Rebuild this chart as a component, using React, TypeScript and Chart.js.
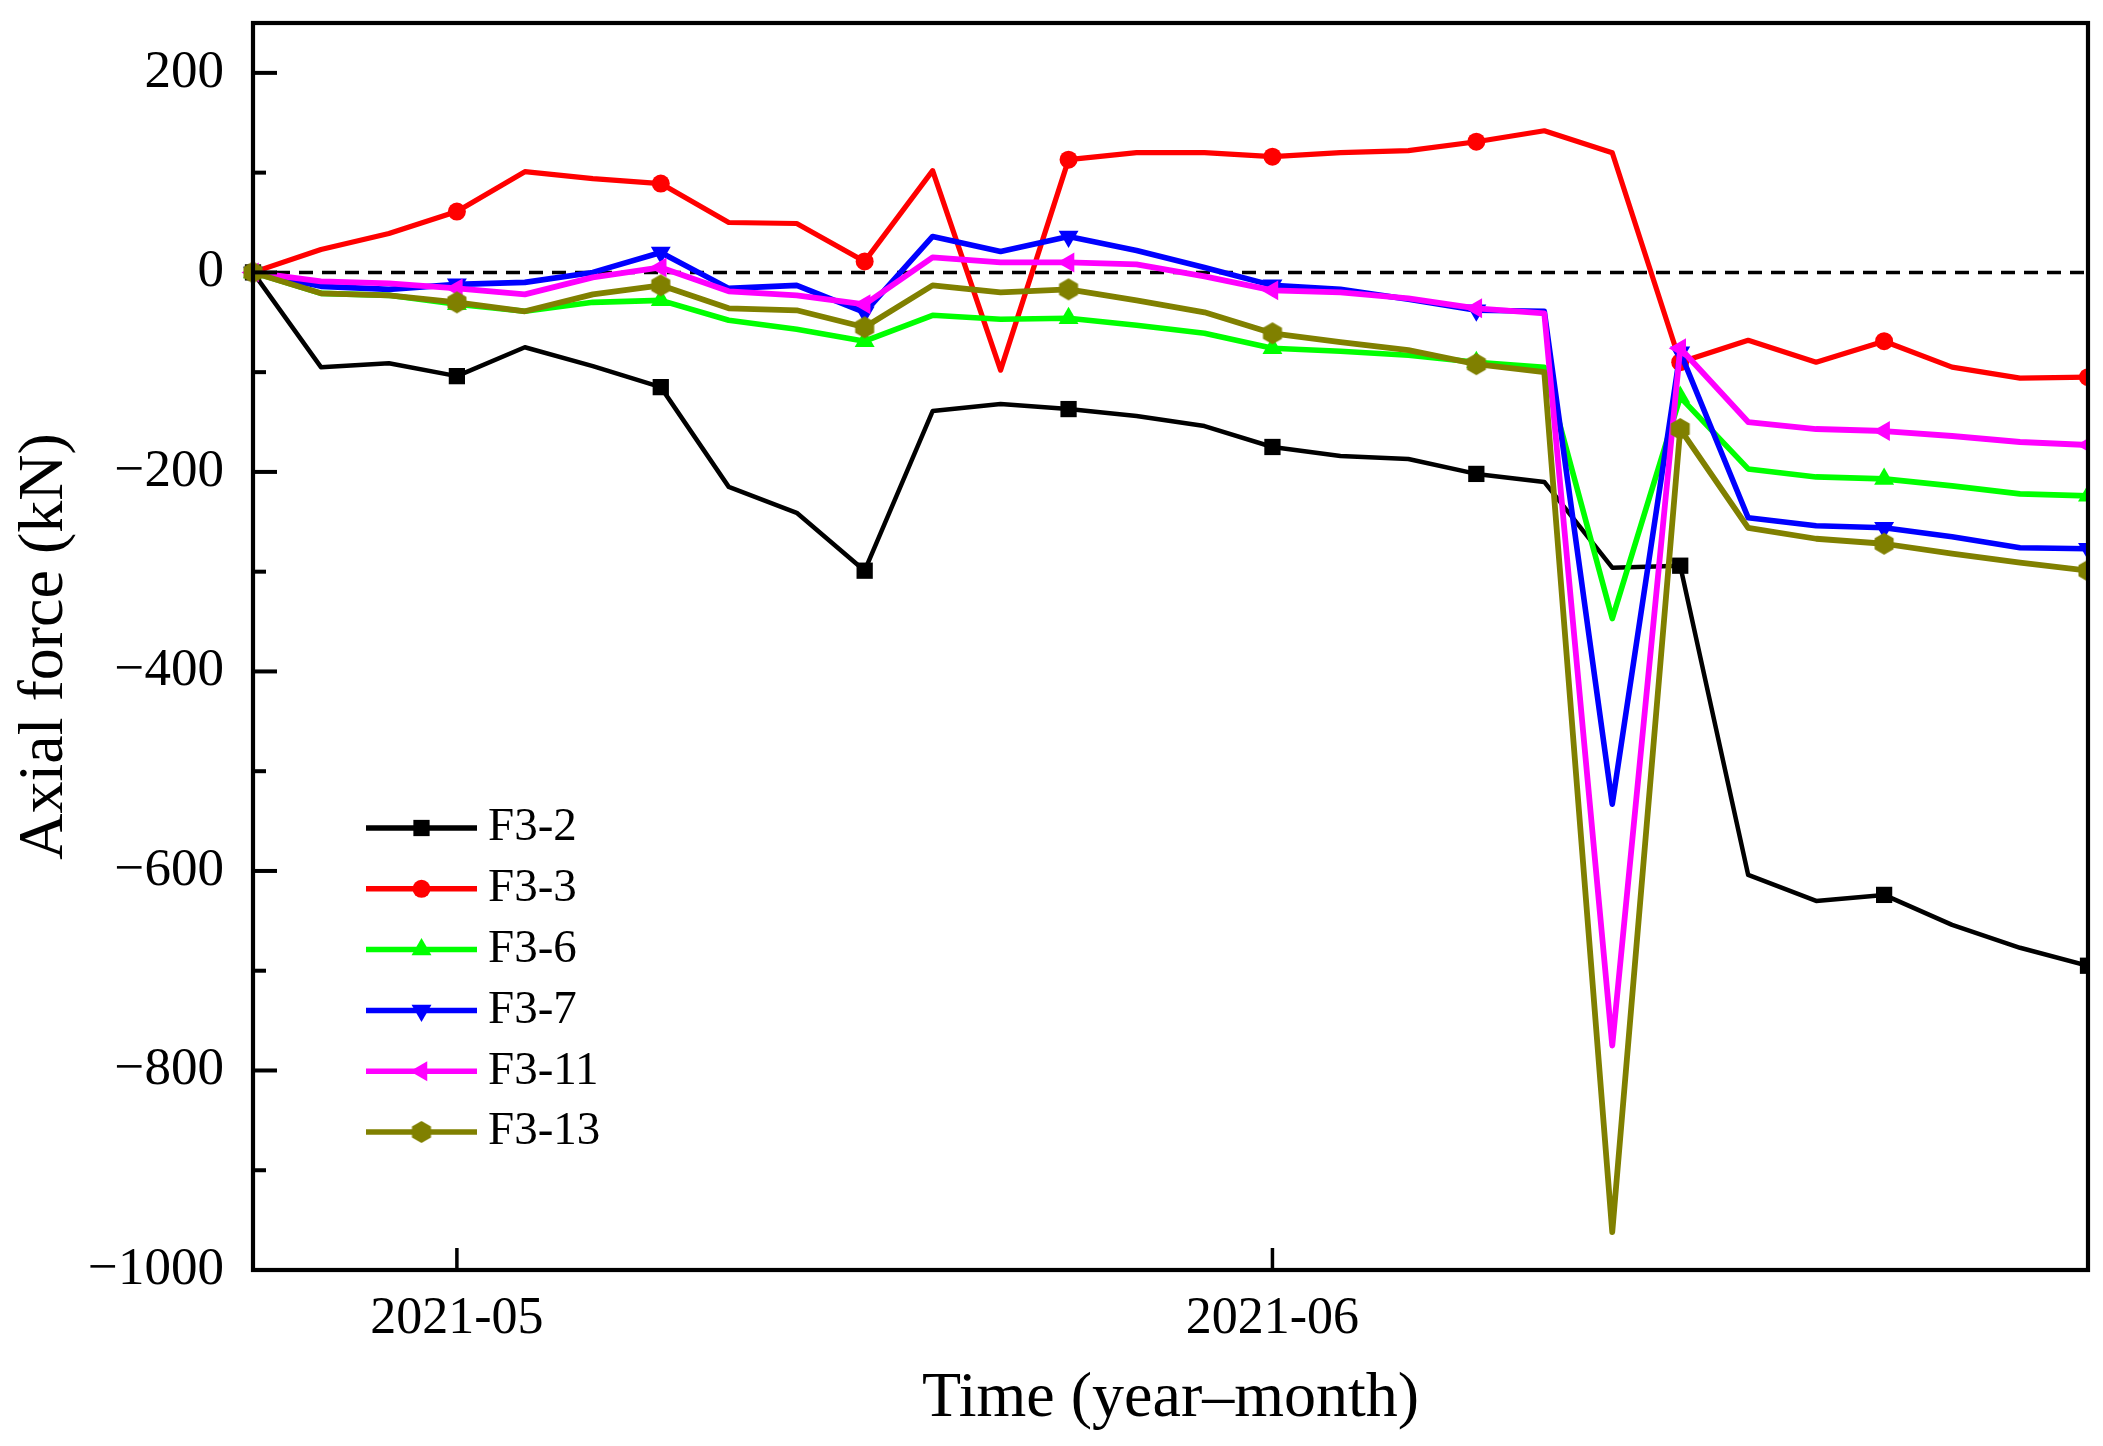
import React, { useEffect, useRef } from 'react';
import { Chart, registerables } from 'chart.js';
import { drawPoint } from 'chart.js/helpers';

Chart.register(...registerables);

// ---------------- data ----------------
const dates = [
  '2021-04-23', '2021-04-25', '2021-04-28', '2021-05-01', '2021-05-03', '2021-05-06', '2021-05-08',
  '2021-05-11', '2021-05-13', '2021-05-16', '2021-05-19', '2021-05-21', '2021-05-24', '2021-05-26',
  '2021-05-29', '2021-06-01', '2021-06-03', '2021-06-06', '2021-06-08', '2021-06-11', '2021-06-13',
  '2021-06-16', '2021-06-19', '2021-06-21', '2021-06-24', '2021-06-26', '2021-06-29', '2021-07-02',
];
const xTickDates = ['2021-05-01', '2021-06-01'];
const xTickLabels = ['2021-05', '2021-06'];
const yMajorTicks = [-1000, -800, -600, -400, -200, 0, 200];
const yMinorTicks = [-900, -700, -500, -300, -100, 100];
const zeroLineValue = 0;

const seriesNames = ['F3-2', 'F3-3', 'F3-6', 'F3-7', 'F3-11', 'F3-13'];
const f3_2 = [0, -95, -91, -104, -75, -94, -115, -215, -241, -299, -139, -132, -137, -144, -154, -175, -184, -187, -202, -210, -296, -294, -604, -630, -624, -654, -677, -695];
const f3_3 = [0, 23, 39, 61, 101, 94, 89, 50, 49, 11, 102, -98, 113, 120, 120, 116, 120, 122, 131, 142, 120, -90, -68, -90, -69, -95, -106, -105];
const f3_6 = [0, -21, -23, -32, -39, -30, -28, -48, -57, -69, -43, -47, -46, -53, -61, -76, -79, -83, -90, -95, -347, -125, -197, -205, -207, -214, -222, -224];
const f3_7 = [0, -14, -17, -12, -10, 0, 20, -16, -13, -40, 36, 21, 36, 22, 5, -13, -17, -27, -38, -39, -533, -80, -246, -254, -256, -265, -276, -277];
const f3_11 = [0, -9, -11, -16, -22, -5, 5, -19, -23, -32, 15, 10, 10, 8, -4, -18, -20, -26, -36, -41, -775, -76, -150, -157, -159, -164, -170, -173];
const f3_13 = [0, -21, -23, -30, -39, -22, -13, -36, -38, -55, -13, -20, -17, -28, -40, -61, -70, -78, -92, -100, -962, -157, -256, -267, -272, -282, -291, -299];
const seriesValues = [f3_2, f3_3, f3_6, f3_7, f3_11, f3_13];

// ---------------- styles ----------------
const W = 2103;
const H = 1446;
const FONT = "'Liberation Serif', 'Times New Roman', serif";
const MARKER_EVERY = 3;

function makeHexagon(color: string, r: number): HTMLCanvasElement {
  const c = document.createElement('canvas');
  const s = Math.ceil(r * 2 + 2);
  c.width = s;
  c.height = s;
  const ctx = c.getContext('2d') as CanvasRenderingContext2D;
  ctx.fillStyle = color;
  ctx.beginPath();
  for (let k = 0; k < 6; k++) {
    const a = Math.PI / 2 + (k * Math.PI) / 3;
    const px = s / 2 + r * Math.cos(a);
    const py = s / 2 + r * Math.sin(a);
    if (k === 0) ctx.moveTo(px, py);
    else ctx.lineTo(px, py);
  }
  ctx.closePath();
  ctx.fill();
  return c;
}

type SeriesStyle = { color: string; pointStyle: any; rotation: number; radius: number; width: number };

function buildStyles(): SeriesStyle[] {
  return [
    { color: '#000000', pointStyle: 'rect', rotation: 0, radius: 11.5, width: 4.5 },
    { color: '#FF0000', pointStyle: 'circle', rotation: 0, radius: 9, width: 5.2 },
    { color: '#00FF00', pointStyle: 'triangle', rotation: 0, radius: 11.5, width: 5.6 },
    { color: '#0000FF', pointStyle: 'triangle', rotation: 180, radius: 11.5, width: 5.6 },
    { color: '#FF00FF', pointStyle: 'triangle', rotation: 270, radius: 11.5, width: 5.8 },
    { color: '#808000', pointStyle: makeHexagon('#808000', 11), rotation: 0, radius: 11, width: 5.8 },
  ];
}

export default function App() {
  const canvasRef = useRef<HTMLCanvasElement | null>(null);

  useEffect(() => {
    const canvas = canvasRef.current;
    if (!canvas) return;
    const styles = buildStyles();

    const framePlugin = {
      id: 'frameAndTicks',
      beforeDatasetsDraw(chart: any) {
        const { ctx, chartArea } = chart;
        const y = chart.scales.y.getPixelForValue(zeroLineValue);
        ctx.save();
        ctx.strokeStyle = '#000';
        ctx.lineWidth = 3.5;
        ctx.setLineDash([14, 9]);
        ctx.beginPath();
        ctx.moveTo(chartArea.left, y);
        ctx.lineTo(chartArea.right, y);
        ctx.stroke();
        ctx.restore();
      },
      afterDatasetsDraw(chart: any) {
        const { ctx, chartArea } = chart;
        const xs = chart.scales.x;
        const ys = chart.scales.y;
        ctx.save();
        ctx.strokeStyle = '#000';
        ctx.setLineDash([]);
        ctx.lineWidth = 4;
        yMajorTicks.forEach((v) => {
          const py = ys.getPixelForValue(v);
          ctx.beginPath();
          ctx.moveTo(chartArea.left, py);
          ctx.lineTo(chartArea.left + 24, py);
          ctx.stroke();
        });
        yMinorTicks.forEach((v) => {
          const py = ys.getPixelForValue(v);
          ctx.beginPath();
          ctx.moveTo(chartArea.left, py);
          ctx.lineTo(chartArea.left + 13, py);
          ctx.stroke();
        });
        ctx.lineWidth = 3.5;
        xTickDates.forEach((d) => {
          const px = xs.getPixelForValue(dates.indexOf(d));
          ctx.beginPath();
          ctx.moveTo(px, chartArea.bottom);
          ctx.lineTo(px, chartArea.bottom - 22);
          ctx.stroke();
        });
        ctx.lineWidth = 4.2;
        ctx.strokeRect(chartArea.left, chartArea.top, chartArea.right - chartArea.left, chartArea.bottom - chartArea.top);
        ctx.restore();
      },
    };

    const legendPlugin = {
      id: 'lineLegend',
      afterDraw(chart: any) {
        const { ctx, chartArea } = chart;
        const x0 = chartArea.left + 113;
        const x1 = chartArea.left + 224;
        const xm = (x0 + x1) / 2;
        const xt = chartArea.left + 235;
        const yStart = chartArea.top + 805;
        const dy = 60.8;
        ctx.save();
        seriesNames.forEach((name, i) => {
          const st = styles[i];
          const yy = yStart + i * dy;
          ctx.strokeStyle = st.color;
          ctx.fillStyle = st.color;
          ctx.lineWidth = 5.5;
          ctx.setLineDash([]);
          ctx.beginPath();
          ctx.moveTo(x0, yy);
          ctx.lineTo(x1, yy);
          ctx.stroke();
          drawPoint(ctx, { pointStyle: st.pointStyle, rotation: st.rotation, radius: st.radius, borderWidth: 0 } as any, xm, yy);
          ctx.fillStyle = '#000';
          ctx.font = `47px ${FONT}`;
          ctx.textAlign = 'left';
          ctx.textBaseline = 'middle';
          ctx.fillText(name, xt, yy);
        });
        ctx.restore();
      },
    };

    const chart = new Chart(canvas, {
      type: 'line',
      data: {
        labels: dates,
        datasets: seriesNames.map((name, i) => {
          const st = styles[i];
          return {
            label: name,
            data: seriesValues[i],
            borderColor: st.color,
            backgroundColor: st.color,
            borderWidth: st.width,
            borderJoinStyle: 'round',
            borderCapStyle: 'round',
            pointStyle: st.pointStyle,
            pointRotation: st.rotation,
            pointRadius: (c: any) => (c.dataIndex % MARKER_EVERY === 0 ? st.radius : 0),
            pointHoverRadius: 0,
            pointBorderWidth: 0,
            pointBackgroundColor: st.color,
            pointBorderColor: st.color,
            tension: 0,
            fill: false,
            order: seriesNames.length - i,
            clip: { left: 20, top: 0, right: 0, bottom: 0 },
          } as any;
        }),
      },
      options: {
        animation: false,
        responsive: false,
        maintainAspectRatio: false,
        devicePixelRatio: 1,
        events: [],
        layout: { padding: { top: 23, right: 15, left: 0, bottom: 0 } },
        plugins: {
          legend: { display: false },
          tooltip: { enabled: false },
        },
        scales: {
          x: {
            type: 'category',
            offset: false,
            grid: { display: false, drawTicks: false },
            border: { display: false },
            afterBuildTicks: (scale: any) => {
              scale.ticks = xTickDates.map((d) => ({ value: dates.indexOf(d) }));
            },
            afterFit: (scale: any) => {
              scale.height = H - 1270;
              scale.paddingLeft = 0;
              scale.paddingRight = 0;
            },
            ticks: {
              autoSkip: false,
              maxRotation: 0,
              minRotation: 0,
              padding: 18,
              color: '#000',
              font: { family: FONT, size: 52, lineHeight: 1.2 },
              callback: (value: any) => {
                const k = xTickDates.indexOf(dates[value as number]);
                return k >= 0 ? xTickLabels[k] : '';
              },
            },
            title: {
              display: true,
              text: 'Time (year–month)',
              color: '#000',
              font: { family: FONT, size: 64, lineHeight: 1 },
              padding: { top: 0, bottom: 15 },
            },
          },
          y: {
            type: 'linear',
            min: -1000,
            max: 250,
            grid: { display: false, drawTicks: false },
            border: { display: false },
            afterBuildTicks: (scale: any) => {
              scale.ticks = yMajorTicks.map((v) => ({ value: v }));
            },
            afterFit: (scale: any) => {
              scale.width = 253;
              scale.paddingTop = 0;
              scale.paddingBottom = 0;
            },
            ticks: {
              padding: 29,
              color: '#000',
              font: { family: FONT, size: 53, lineHeight: 1.2 },
              callback: (value: any) => {
                const v = Number(value);
                return (v < 0 ? '\u2212' : '') + String(Math.abs(v));
              },
            },
            title: {
              display: true,
              text: 'Axial force (kN)',
              color: '#000',
              font: { family: FONT, size: 64, lineHeight: 1 },
              padding: { top: 13, bottom: 0 },
            },
          },
        },
      } as any,
      plugins: [framePlugin, legendPlugin],
    });

    return () => {
      chart.destroy();
    };
  }, []);

  return (
    <div style={{ position: 'absolute', left: 0, top: 0, width: W, height: H, background: '#fff' }}>
      <canvas ref={canvasRef} width={W} height={H} style={{ display: 'block', width: W, height: H }} />
    </div>
  );
}
